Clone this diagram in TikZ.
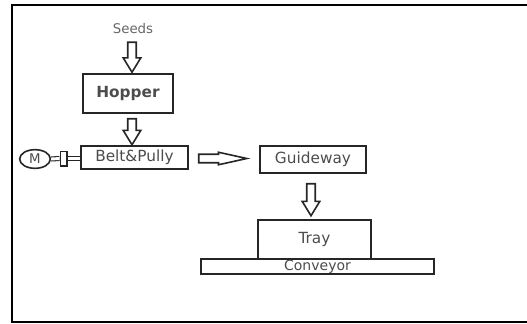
\documentclass[tikz,border=0pt]{standalone}
\usepackage{fontspec}
\setmainfont{DejaVu Sans}
\usetikzlibrary{shapes.geometric,shapes.arrows,calc}

\tikzset{
    block/.style={draw=black!85,line width=1.4pt,inner sep=0pt,text=black!70,font=\fontsize{11.5}{13}\selectfont},
    tag/.style={inner sep=0pt,text=black!60,font=\fontsize{10}{12}\selectfont},
    flowarrow/.style={single arrow,draw=black!85,line width=1.2pt,inner sep=2.6pt,single arrow head extend=3.4pt,single arrow tip angle=63,anchor=tail},
    shaft/.style={draw=black!85,line width=0.8pt,double,double distance=2.2pt},
}

\begin{document}
\begin{tikzpicture}[x=0.75pt,y=-0.75pt]
    \useasboundingbox (0,0) rectangle (527,324);
    % open frame
    \draw[line width=2.2pt] (527,5) -- (12,5) -- (12,322) -- (527,322);

    \node[tag] (seeds) at (133,29) {Seeds};
    \node[block,minimum width=67.5pt,minimum height=29.25pt,font=\fontsize{11.5}{13}\selectfont\bfseries] (hopper) at (128,93.5) {Hopper};
    \node[block,minimum width=80.25pt,minimum height=17.25pt] (belt) at (134.5,157.5) {Belt\&Pully};
    \node[block,minimum width=79.5pt,minimum height=20.25pt] (guide) at (313,159.5) {Guideway};
    \node[block,minimum width=174.75pt,minimum height=11.25pt,font=\fontsize{10.5}{12}\selectfont] (conveyor) at (317.5,266.5) {Conveyor};
    \node[block,minimum width=84.75pt,minimum height=29.25pt] (tray) at (314.5,239.5) {Tray};

    % motor and coupling
    \node[ellipse,draw=black!85,line width=1.2pt,minimum width=23pt,minimum height=14pt,inner sep=0pt,text=black!70,font=\fontsize{10}{11}\selectfont] (motor) at (35,159) {M};
    \node[draw=black!85,line width=1pt,minimum width=5pt,minimum height=11pt,inner sep=0pt] (coupling) at (63.5,158.5) {};
    \draw[shaft] (motor.east) -- (coupling.west);
    \draw[shaft] (coupling.east) -- (coupling.east -| belt.west);

    % flow arrows
    \node[flowarrow,rotate=-90,minimum height=22.5pt] (a1) at ($(seeds.south -| 132,0)+(0,7)$) {};
    \node[flowarrow,rotate=-90,minimum height=19.5pt] (a2) at ($(hopper.south -| 132,0)+(0,4)$) {};
    \node[flowarrow,minimum height=36pt,single arrow head extend=1.5pt,single arrow tip angle=25] (a3) at ($(belt.east)+(9,1)$) {};
    \node[flowarrow,rotate=-90,minimum height=24pt] (a4) at ($(guide.south -| 311,0)+(0,9)$) {};
\end{tikzpicture}
\end{document}
